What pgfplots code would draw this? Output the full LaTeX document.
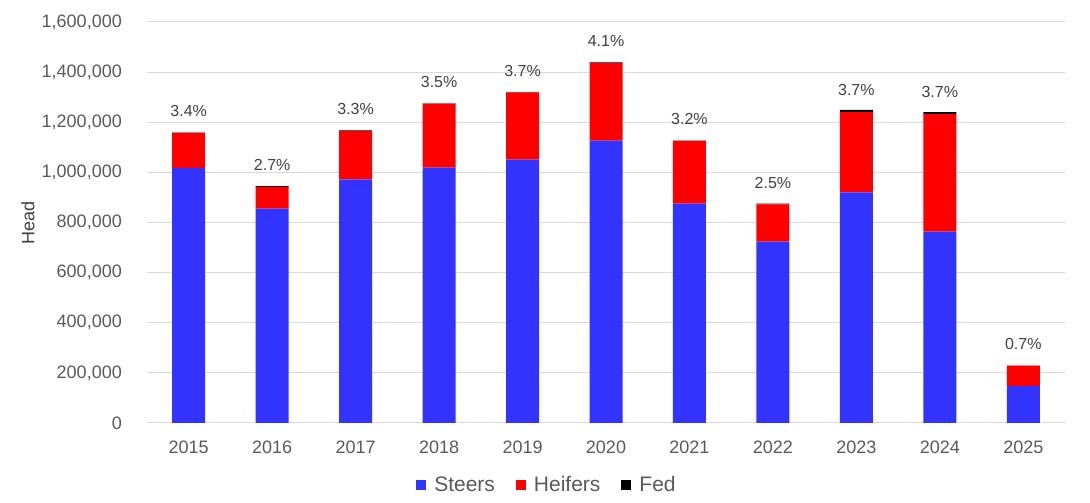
\documentclass[border=0pt]{standalone}
\usepackage{fontspec}
\setmainfont{Liberation Sans}
\usepackage{pgfplots}
\usepackage{pgfplotstable}
\pgfplotsset{compat=1.18}
\definecolor{steer}{HTML}{3333FF}
\definecolor{heifer}{HTML}{FF0000}
\definecolor{tickgray}{HTML}{595959}
\definecolor{lblgray}{HTML}{404040}
\definecolor{gridgray}{HTML}{D9D9D9}

\pgfplotstableread{
x steers heifers fed lab
0 1018000 140000 500  3.4
1 855000  87500  2500 2.7
2 972000  194000 2000 3.3
3 1019000 255000 1000 3.5
4 1051000 268000 1000 3.7
5 1127000 309000 3000 4.1
6 875000  249500 2500 3.2
7 724000  148500 2500 2.5
8 920000  320000 9000 3.7
9 764000  468000 8000 3.7
10 148000 81000  1    0.7
}\data

\begin{document}
\begin{tikzpicture}
\useasboundingbox (-147pt,-80pt) rectangle (943pt,423pt);
\begin{axis}[
  at={(0pt,0pt)}, anchor=south west,
  scale only axis, width=918pt, height=401pt,
  ybar stacked, bar width=33pt,
  xmin=-0.5, xmax=10.5, ymin=0, ymax=1600000,
  xtick={0,1,2,3,4,5,6,7,8,9,10},
  xticklabels={2015,2016,2017,2018,2019,2020,2021,2022,2023,2024,2025},
  ytick={0,200000,400000,600000,800000,1000000,1200000,1400000,1600000},
  scaled y ticks=false,
  /pgf/number format/assume math mode=true,
  y tick label style={/pgf/number format/fixed, /pgf/number format/1000 sep={,}},
  tick label style={font=\fontsize{18}{20}\selectfont, text=tickgray},
  yticklabel style={inner sep=0pt, anchor=east, xshift=-25pt},
  xticklabel style={inner sep=0pt, anchor=north, yshift=-18pt},
  axis line style={draw=none},
  major tick length=0pt,
  ymajorgrids,
  grid style={gridgray, line width=1pt},
  ylabel={Head},
  ylabel style={at={(axis description cs:0,0.5)}, anchor=center, rotate=0, yshift=119pt, font=\fontsize{18}{20}\selectfont, text=lblgray},
  legend style={at={(0.4357,-0.1546)}, anchor=center, draw=none, fill=none,
    legend columns=3, font=\fontsize{21}{23}\selectfont, text=tickgray,
    /tikz/every odd column/.append style={column sep=6pt},
    /tikz/every even column/.append style={column sep=19pt}},
  legend image code/.code={\fill[#1] (0pt,-5pt) rectangle (10pt,5pt);},
]
\addplot[fill=steer, draw=none] table[x=x, y=steers] {\data};
\addlegendentry{Steers}
\addplot[fill=heifer, draw=none] table[x=x, y=heifers] {\data};
\addlegendentry{Heifers}
\addplot[fill=black, draw=none,
  nodes near coords={\pgfplotspointmeta\%},
  point meta=explicit symbolic,
  nodes near coords style={font=\fontsize{16}{18}\selectfont, text=lblgray, anchor=base, inner sep=0pt, yshift=16pt}]
  table[x=x, y=fed, meta=lab] {\data};
\addlegendentry{Fed}
\end{axis}
\end{tikzpicture}
\end{document}
